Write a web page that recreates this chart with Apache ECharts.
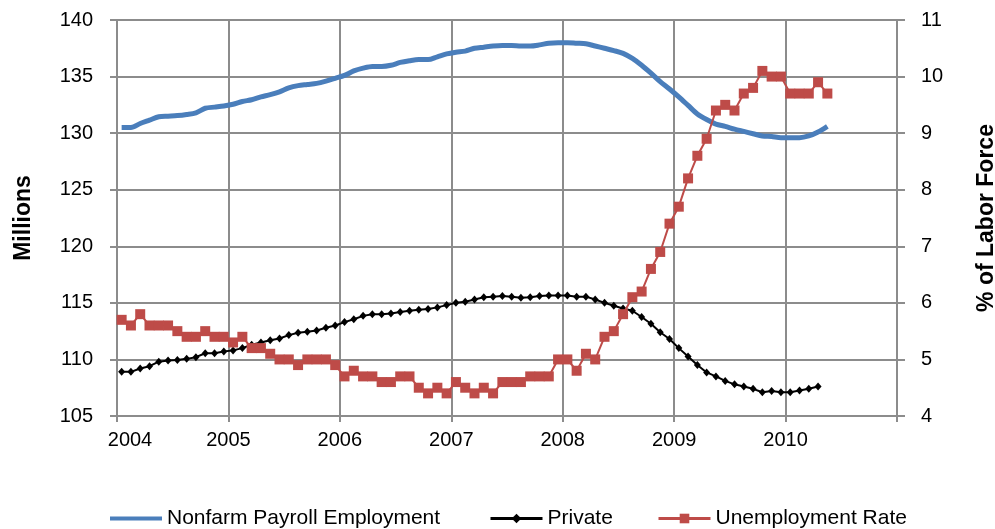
<!DOCTYPE html>
<html>
<head>
<meta charset="utf-8">
<script src="https://cdn.jsdelivr.net/npm/echarts@6/dist/echarts.min.js"></script>
<style>
html,body{margin:0;padding:0;background:#fff;}
#c{width:995px;height:529px;}
</style>
</head>
<body>
<div id="c"></div>
<script>
// Monthly data starting January 2004
const startYear = 2004;
const yearTicks = [2004, 2005, 2006, 2007, 2008, 2009, 2010, 2011];
const leftTicks = [105, 110, 115, 120, 125, 130, 135, 140];
const rightTicks = [4, 5, 6, 7, 8, 9, 10, 11];

const nonfarm = [
  130.5,130.5,130.85,131.15,131.45,131.5,131.55,131.65,131.8,132.2,132.3,132.4,
  132.55,132.8,132.95,133.2,133.4,133.65,134.0,134.2,134.3,134.4,134.6,134.85,
  135.1,135.5,135.75,135.9,135.9,136.0,136.25,136.4,136.5,136.5,136.75,137.0,
  137.15,137.25,137.5,137.6,137.7,137.75,137.75,137.7,137.7,137.8,137.95,138.0,
  138.0,137.95,137.9,137.7,137.5,137.3,137.05,136.6,136.0,135.3,134.55,133.9,
  133.2,132.45,131.7,131.2,130.8,130.6,130.35,130.15,129.95,129.75,129.7,129.6,
  129.6,129.6,129.75,130.1,130.6
];
const privateEmp = [
  108.9,108.9,109.2,109.4,109.8,109.9,109.95,110.05,110.2,110.55,110.55,110.7,
  110.8,111.0,111.3,111.5,111.7,111.85,112.15,112.35,112.45,112.55,112.8,113.0,
  113.3,113.55,113.85,114.0,114.0,114.05,114.2,114.3,114.4,114.45,114.6,114.8,
  115.0,115.1,115.3,115.5,115.55,115.6,115.55,115.45,115.5,115.6,115.65,115.65,
  115.65,115.55,115.55,115.3,115.0,114.75,114.5,114.3,113.75,113.15,112.4,111.8,
  111.0,110.25,109.5,108.85,108.5,108.1,107.8,107.6,107.4,107.1,107.2,107.1,
  107.1,107.25,107.4,107.6
];
const unemployment = [
  5.7,5.6,5.8,5.6,5.6,5.6,5.5,5.4,5.4,5.5,5.4,5.4,
  5.3,5.4,5.2,5.2,5.1,5.0,5.0,4.9,5.0,5.0,5.0,4.9,
  4.7,4.8,4.7,4.7,4.6,4.6,4.7,4.7,4.5,4.4,4.5,4.4,
  4.6,4.5,4.4,4.5,4.4,4.6,4.6,4.6,4.7,4.7,4.7,5.0,
  5.0,4.8,5.1,5.0,5.4,5.5,5.8,6.1,6.2,6.6,6.9,7.4,
  7.7,8.2,8.6,8.9,9.4,9.5,9.4,9.7,9.8,10.1,10.0,10.0,
  9.7,9.7,9.7,9.9,9.7
];

// x position in months since Jan 2004, each point mid-month
const toPairs = arr => arr.map((v, i) => [i + 0.5, v]);

const FONT = 'Liberation Sans, Arial, sans-serif';
const GRID_COLOR = '#8c8c8c';
const AXIS_COLOR = '#8c8c8c';

const chart = echarts.init(document.getElementById('c'), null, {renderer: 'canvas'});
const xMax = (yearTicks[yearTicks.length - 1] - startYear) * 12;

const legendBase = {
  top: 503,
  itemWidth: 52,
  itemHeight: 12,
  itemGap: 5,
  textStyle: {fontFamily: FONT, fontSize: 21, color: '#000'},
  lineStyle: {width: 3},
  selectedMode: false
};

chart.setOption({
  animation: false,
  backgroundColor: '#fff',
  grid: {left: 117, right: 98, top: 20, bottom: 113, containLabel: false, outerBoundsMode: 'none'},
  legend: [
    Object.assign({}, legendBase, {left: 105, itemHeight: 4,
      data: [{name: 'Nonfarm Payroll Employment', icon: 'rect'}]}),
    Object.assign({}, legendBase, {left: 484, data: ['Private']}),
    Object.assign({}, legendBase, {left: 652, data: ['Unemployment Rate']})
  ],
  xAxis: {
    type: 'value',
    min: 0,
    max: xMax,
    interval: 12,
    axisLine: {show: true, onZero: false, lineStyle: {color: AXIS_COLOR, width: 2}},
    axisTick: {show: true, length: 6, lineStyle: {color: AXIS_COLOR, width: 2}},
    splitLine: {show: true, lineStyle: {color: GRID_COLOR, width: 2}},
    axisLabel: {
      margin: 14,
      fontFamily: FONT,
      fontSize: 20,
      color: '#000',
      formatter: function (v) {
        const y = startYear + v / 12;
        if (y === yearTicks[yearTicks.length - 1]) return '';
        if (y === startYear) return '{f|' + y + '}';
        return String(y);
      },
      rich: {f: {fontFamily: FONT, fontSize: 20, color: '#000', padding: [0, 0, 0, 26]}}
    }
  },
  yAxis: [
    {
      type: 'value',
      min: leftTicks[0],
      max: leftTicks[leftTicks.length - 1],
      interval: 5,
      name: 'Millions',
      nameLocation: 'middle',
      nameGap: 82,
      nameRotate: 90,
      nameTextStyle: {fontFamily: FONT, fontSize: 23, fontWeight: 'bold', color: '#000'},
      axisLine: {show: true, lineStyle: {color: AXIS_COLOR, width: 2}},
      axisTick: {show: true, length: 7, lineStyle: {color: AXIS_COLOR, width: 2}},
      splitLine: {show: true, lineStyle: {color: GRID_COLOR, width: 2}},
      axisLabel: {margin: 24, fontFamily: FONT, fontSize: 20, color: '#000'}
    },
    {
      type: 'value',
      min: rightTicks[0],
      max: rightTicks[rightTicks.length - 1],
      interval: 1,
      position: 'right',
      name: '% of Labor Force',
      nameLocation: 'middle',
      nameGap: 78,
      nameRotate: 90,
      nameTextStyle: {fontFamily: FONT, fontSize: 23, fontWeight: 'bold', color: '#000'},
      axisLine: {show: true, lineStyle: {color: AXIS_COLOR, width: 2}},
      axisTick: {show: true, length: 8, lineStyle: {color: AXIS_COLOR, width: 2}},
      splitLine: {show: false},
      axisLabel: {margin: 24, fontFamily: FONT, fontSize: 20, color: '#000'}
    }
  ],
  series: [
    {
      name: 'Nonfarm Payroll Employment',
      type: 'line',
      yAxisIndex: 0,
      data: toPairs(nonfarm),
      symbol: 'none',
      smooth: 0.3,
      lineStyle: {color: '#4a7ebb', width: 5},
      itemStyle: {color: '#4a7ebb'},
      z: 3
    },
    {
      name: 'Private',
      type: 'line',
      yAxisIndex: 0,
      data: toPairs(privateEmp),
      symbol: 'diamond',
      symbolSize: [7, 8],
      showSymbol: true,
      lineStyle: {color: '#000', width: 2},
      itemStyle: {color: '#000'},
      z: 4
    },
    {
      name: 'Unemployment Rate',
      type: 'line',
      yAxisIndex: 1,
      data: toPairs(unemployment),
      symbol: 'rect',
      symbolSize: 10,
      showSymbol: true,
      lineStyle: {color: '#be4b48', width: 2},
      itemStyle: {color: '#be4b48'},
      z: 5
    }
  ]
});
</script>
</body>
</html>
